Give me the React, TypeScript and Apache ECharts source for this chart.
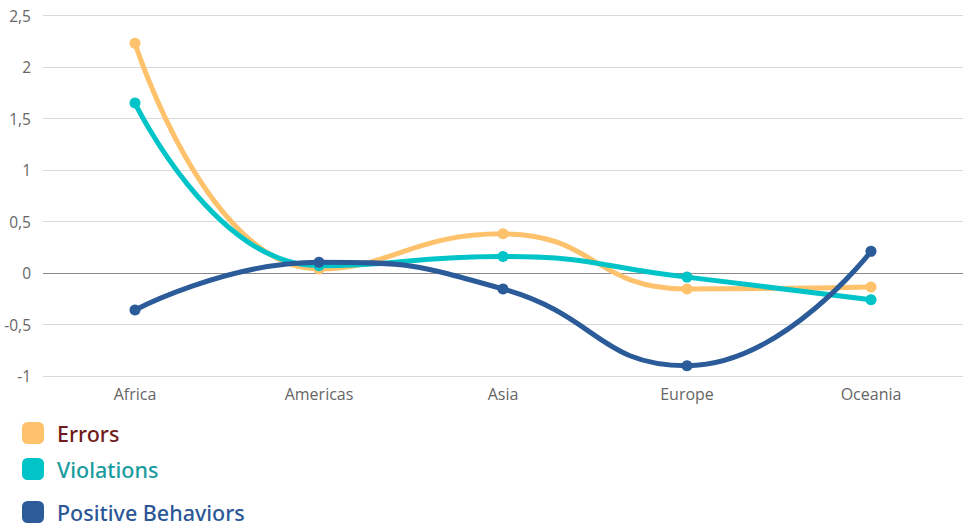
import React, { useEffect, useRef } from "react";
import * as echarts from "echarts";

const categories = ["Africa", "Americas", "Asia", "Europe", "Oceania"];
const errors = [2.23, 0.04, 0.38, -0.155, -0.135];
const violations = [1.65, 0.07, 0.16, -0.04, -0.26];
const positive = [-0.36, 0.105, -0.155, -0.9, 0.21];
const seriesNames = ["Errors", "Violations", "Positive Behaviors"];

const lineColors = ["#FEC26C", "#00C4C8", "#2B5C99"];
const textColors = ["#6E1C1C", "#1A9C9F", "#2C5797"];
const legendTops = [422, 458, 501];

export default function App() {
  const ref = useRef<HTMLDivElement>(null);
  useEffect(() => {
    document.body.style.margin = "0";
    const chart = echarts.init(ref.current!, undefined, { renderer: "svg" });
    const data = [errors, violations, positive];
    chart.setOption({
      animation: false,
      grid: { left: 43, right: 4, top: 15.5, bottom: 149, containLabel: false },
      xAxis: {
        type: "category",
        data: categories,
        boundaryGap: true,
        axisLine: { show: false },
        axisTick: { show: false },
        axisLabel: { color: "#666", fontSize: 16, fontFamily: "Open Sans", margin: 10 },
      },
      yAxis: {
        type: "value",
        min: -1,
        max: 2.5,
        interval: 0.5,
        axisLine: { show: false },
        axisTick: { show: false },
        splitLine: { lineStyle: { color: "#d9d9d9", width: 1 } },
        axisLabel: {
          color: "#666",
          fontSize: 15.5,
          fontFamily: "Open Sans",
          margin: 12,
          formatter: (v: number) => String(v).replace(".", ","),
        },
      },
      legend: seriesNames.map((n, i) => ({
        orient: "vertical",
        left: 22,
        top: legendTops[i],
        padding: 0,
        itemWidth: 22,
        itemHeight: 22,
        itemGap: 0,
        icon: "roundRect",
        selectedMode: false,
        textStyle: { fontSize: 21.5, fontFamily: "Noto Sans", fontWeight: 500, color: textColors[i], padding: [0, 0, 0, 8] },
        data: [{ name: n, textStyle: { color: textColors[i] } }],
      })),
      series: seriesNames.map((n, i) => ({
        name: n,
        type: "line",
        data: data[i],
        smooth: 0.5,
        symbol: "circle",
        symbolSize: 11,
        itemStyle: { color: lineColors[i] },
        lineStyle: { color: lineColors[i], width: 5 },
        markLine:
          i === 0
            ? {
                silent: true,
                symbol: "none",
                label: { show: false },
                lineStyle: { color: "#8a8a8a", width: 1, type: "solid" },
                data: [{ yAxis: 0 }],
                z: 1,
              }
            : undefined,
      })),
    });
    return () => chart.dispose();
  }, []);
  return <div ref={ref} style={{ width: 967, height: 525 }} />;
}
